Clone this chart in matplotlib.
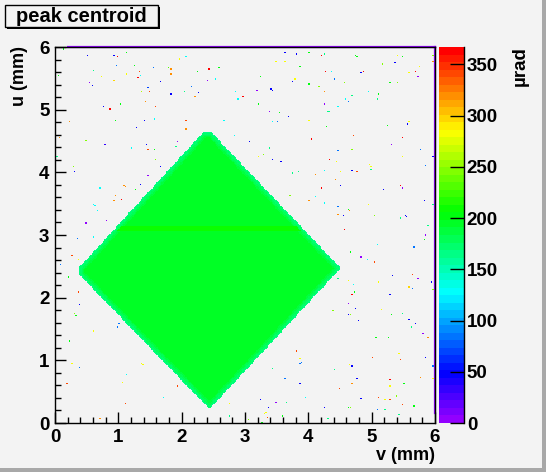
import colorsys

import numpy as np
import matplotlib

matplotlib.use("Agg")
import matplotlib.pyplot as plt
from matplotlib.colors import ListedColormap, BoundaryNorm
from matplotlib.patches import Rectangle
from matplotlib.path import Path
from matplotlib.ticker import MultipleLocator

# histogram binning (mm)
N_BINS = 300
V_MAX = 6.0
U_MAX = 6.0
Z_MAX = 367.0
N_CONTOURS = 50

# diamond shaped sensitive area, corners in (v, u) mm
diamond_v = [2.34, 2.47, 4.51, 2.44, 0.38, 0.38]
diamond_u = [4.64, 4.64, 2.47, 0.22, 2.37, 2.48]
core_z = 195.0
rim_z = 165.0
rim_width = 0.10
# slightly different band across the upper part
stripe_v = [0.97, 3.87]
stripe_u = [3.06, 3.13]
stripe_z = 207.0

# isolated noisy bins outside the diamond (v mm, u mm, µrad)
dot_v = [
    # upper left
    .12, .50, .92, .99, 1.14, 2.06, 1.97, .61, .72, .97,
    1.25, 1.14, 1.33, 1.35, 1.30, .94, 1.55, 1.79, 1.82, 1.82,
    2.26, 2.42, 2.59, 2.41, 2.53, .04, .54, .59, 1.66, 1.47,
    1.36, 1.49, 1.82, 2.04, 2.15, 2.28, 2.20, 2.84, 2.88, 2.96,
    .76, .87, 1.03, 1.43, 1.58, .23, .95, 1.41, 1.57, 2.06,
    2.66, 1.28, 2.07, .07, .48, .78, 1.44, 1.21, 1.47, 1.56,
    1.93, 1.90, 2.83, .03, 1.58, 1.66, .29, .31, 1.46, .08,
    1.35, 1.08, 1.10, 1.27, .70, .95, 1.05, .94, .61, .62,
    .67, .48, .81,
    # upper right
    3.62, 3.81, 4.00, 4.21, 4.24, 4.74, 4.77, 3.49, 3.62, 3.87,
    4.27, 4.36, 3.24, 3.78, 3.79, 3.76, 4.01, 3.19, 3.40, 3.42,
    4.17, 4.24, 4.41, 4.57, 4.82, 4.86, 5.16, 5.37, 5.41, 5.48,
    5.59, 5.69, 5.72, 5.75, 5.97, 5.97, 5.29, 5.41, 4.95, 5.11,
    5.09, 4.69, 4.58, 4.63, 3.21, 4.24, 4.46, 3.38, 3.54, 3.68,
    4.30, 4.32, 4.00, 3.42, 3.51, 4.28, 5.25, 5.56, 5.59, 3.07,
    4.05, 4.71, 5.48, 5.31, 3.38, 4.69, 5.77, 3.21, 3.29, 3.43,
    3.56, 4.32, 4.46, 4.44, 5.48, 5.96, 5.85, 4.96, 4.98, 4.99,
    3.76, 3.84, 4.11, 4.24, 4.51, 4.69, 4.77, 4.43, 4.21, 4.51,
    5.45, 5.48, 5.18, 3.70, 4.11, 4.02, 4.25, 4.95, 5.82, 5.97,
    4.46, 4.63, 4.65, 4.46, 4.55, 5.04, 5.45, 5.53, 5.55, 5.88,
    4.57, 5.85,
    # lower left
    .34, .61, .27, .37, .08, .21, .37, .38, .01, .31,
    .32, 1.00, .98, .61, .23, .27, .38, 1.36, 1.39, 1.13,
    1.06, .18, 1.92, 1.71, 1.11, .70, 2.74, 2.75,
    # lower right
    5.85, 5.83, 5.09, 5.67, 4.66, 4.82, 4.93, 5.06, 5.33, 5.64,
    5.72, 5.94, 4.47, 4.62, 5.11, 4.71, 5.59, 5.64, 5.97, 4.69,
    4.73, 5.28, 4.63, 4.76, 5.14, 4.39, 4.62, 4.66, 5.31, 5.48,
    4.79, 5.59, 5.69, 5.63, 5.80, 5.89, 5.07, 5.26, 3.81, 5.42,
    5.01, 5.44, 5.85, 3.87, 3.89, 3.87, 4.65, 4.69, 3.43, 4.41,
    3.62, 4.77, 5.28, 5.77, 5.96, 5.96, 3.87, 5.50, 4.69, 5.28,
    4.49, 5.39, 4.82, 5.11, 5.20, 5.28, 3.95, 3.25, 3.49, 3.64,
    3.37, 4.24, 4.62, 4.66, 5.48, 5.67, 5.09, 5.20, 3.32, 3.31,
    3.34, 3.59, 4.30, 5.42, 3.04, 3.26,
]
dot_u = [
    # upper left
    5.96, 5.87, 5.87, 5.85, 5.90, 5.85, 5.81, 5.63, 5.52, 5.71,
    5.70, 5.56, 5.60, 5.55, 5.50, 5.47, 5.66, 5.66, 5.64, 5.56,
    5.60, 5.64, 5.66, 5.47, 5.48, 5.55, 5.43, 5.39, 5.45, 5.34,
    5.28, 5.28, 5.24, 5.28, 5.36, 5.26, 5.21, 5.28, 5.16, 5.20,
    5.04, 5.02, 5.10, 5.12, 5.04, 4.80, 4.83, 4.83, 4.85, 4.83,
    4.82, 4.70, 4.69, 4.54, 4.51, 4.45, 4.45, 4.38, 4.37, 4.37,
    4.49, 4.40, 4.59, 4.26, 4.21, 4.08, 4.08, 4.00, 3.95, 3.79,
    3.81, 3.79, 3.77, 3.73, 3.74, 3.62, 3.57, 3.54, 3.49, 3.46,
    3.39, 3.19, 3.22,
    # upper right
    5.91, 5.88, 5.90, 5.87, 5.88, 5.87, 5.84, 5.77, 5.77, 5.69,
    5.61, 5.60, 5.52, 5.49, 5.48, 5.45, 5.40, 5.31, 5.32, 5.31,
    5.37, 5.28, 5.48, 5.42, 5.59, 5.60, 5.73, 5.74, 5.87, 5.84,
    5.58, 5.60, 5.52, 5.68, 5.87, 5.77, 5.42, 5.42, 5.28, 5.24,
    5.16, 5.23, 5.16, 5.12, 5.09, 5.09, 5.04, 4.97, 4.94, 4.89,
    4.97, 4.96, 4.83, 4.81, 4.81, 4.73, 4.75, 4.77, 4.80, 4.49,
    4.53, 4.59, 4.56, 4.45, 4.38, 4.37, 4.37, 4.24, 4.29, 4.21,
    4.16, 4.22, 4.34, 4.16, 4.26, 4.24, 4.11, 4.12, 4.10, 4.06,
    3.98, 4.00, 3.97, 4.03, 4.00, 4.03, 4.01, 3.89, 3.74, 3.78,
    3.79, 3.76, 3.73, 3.63, 3.60, 3.55, 3.51, 3.49, 3.54, 3.49,
    3.44, 3.41, 3.39, 3.33, 3.31, 3.31, 3.27, 3.30, 3.28, 3.14,
    3.09, 3.00,
    # lower left
    2.95, 2.96, 2.66, 2.61, 2.53, 2.34, 2.09, 1.89, 1.85, 1.75,
    1.70, 1.59, 1.53, 1.46, 1.30, .95, .89, .95, .92, .76,
    .65, .63, .59, .41, .30, .06, .30, .11,
    # lower right
    2.99, 2.93, 2.85, 2.80, 2.72, 2.64, 2.61, 2.56, 2.36, 2.37,
    2.32, 2.24, 2.32, 2.28, 2.24, 2.20, 2.16, 2.15, 2.13, 2.05,
    2.09, 2.05, 1.91, 1.83, 1.81, 1.78, 1.73, 1.73, 1.72, 1.75,
    1.62, 1.65, 1.59, 1.53, 1.43, 1.37, 1.37, 1.37, 1.15, 1.11,
    1.05, 1.00, 1.05, 1.02, .97, .95, .94, .90, .87, .84,
    .71, .71, .68, .73, .90, .70, .63, .63, .62, .59,
    .55, .43, .39, .41, .36, .36, .41, .36, .33, .33,
    .25, .25, .25, .25, .28, .27, .20, .20, .17, .14,
    .09, .11, .07, .12, .04, .01,
]
dot_z = [
    # upper left
    205, 47, 47, 360, 205, 128, 285, 166, 285, 88,
    205, 285, 340, 128, 360, 300, 88, 230, 317, 317,
    205, 360, 205, 7, 128, 205, 7, 47, 47, 70,
    260, 340, 47, 166, 88, 47, 317, 128, 128, 360,
    47, 360, 205, 317, 340, 317, 205, 47, 128, 340,
    128, 47, 317, 317, 245, 30, 47, 128, 340, 205,
    7, 166, 128, 166, 245, 47, 245, 47, 7, 360,
    47, 317, 317, 205, 128, 317, 360, 317, 128, 128,
    128, 7, 7,
    # upper right
    47, 47, 205, 360, 166, 205, 205, 285, 285, 205,
    360, 128, 205, 285, 300, 47, 205, 7, 47, 47,
    245, 317, 88, 245, 47, 360, 245, 47, 285, 205,
    285, 360, 7, 285, 245, 317, 205, 245, 128, 205,
    166, 166, 128, 88, 205, 7, 128, 7, 205, 47,
    166, 166, 285, 128, 88, 205, 205, 47, 285, 47,
    360, 340, 360, 7, 166, 245, 88, 285, 245, 47,
    47, 360, 88, 285, 285, 47, 88, 285, 285, 166,
    166, 166, 317, 128, 285, 47, 340, 317, 360, 47,
    360, 7, 47, 245, 128, 317, 128, 285, 47, 166,
    88, 205, 317, 317, 47, 245, 166, 47, 47, 166,
    360, 7,
    # lower left
    88, 128, 340, 285, 88, 205, 340, 47, 47, 245,
    205, 88, 88, 285, 205, 285, 88, 285, 285, 128,
    285, 340, 340, 128, 340, 317, 285, 166,
    # lower right
    7, 205, 128, 88, 205, 7, 128, 340, 47, 340,
    7, 47, 166, 285, 285, 128, 300, 88, 245, 360,
    205, 47, 7, 47, 285, 245, 47, 245, 205, 166,
    47, 47, 47, 166, 7, 317, 205, 205, 340, 285,
    340, 340, 47, 285, 88, 88, 285, 47, 166, 166,
    88, 47, 360, 317, 88, 285, 47, 205, 317, 285,
    340, 245, 47, 340, 285, 340, 128, 47, 7, 166,
    47, 47, 205, 245, 340, 205, 88, 166, 285, 285,
    340, 205, 166, 166, 245, 205,
]
assert len(dot_v) == len(dot_u) == len(dot_z)

z_ticks = [0, 50, 100, 150, 200, 250, 300, 350]

BG = "#f3f3f3"


def root_palette(n=50):
    """ROOT 'pretty' palette: violet -> red at full saturation."""
    colors = []
    for i in range(n):
        hue = 280.0 - (i + 1) * (280.0 / n)
        colors.append(colorsys.hls_to_rgb(hue / 360.0, 0.5, 1.0))
    return colors


def seg_dist(px, py, ax_, ay, bx, by):
    dx, dy = bx - ax_, by - ay
    t = np.clip(((px - ax_) * dx + (py - ay) * dy) / (dx * dx + dy * dy), 0, 1)
    return np.hypot(px - ax_ - t * dx, py - ay - t * dy)


def build_histogram():
    step_v = V_MAX / N_BINS
    step_u = U_MAX / N_BINS
    vc = (np.arange(N_BINS) + 0.5) * step_v
    uc = (np.arange(N_BINS) + 0.5) * step_u
    vv, uu = np.meshgrid(vc, uc)
    z = np.full((N_BINS, N_BINS), np.nan)

    corners = list(zip(diamond_v, diamond_u))
    inside = Path(corners).contains_points(
        np.column_stack([vv.ravel(), uu.ravel()])
    ).reshape(vv.shape)

    dist = np.full(vv.shape, np.inf)
    for k in range(len(corners)):
        a = corners[k]
        b = corners[(k + 1) % len(corners)]
        dist = np.minimum(dist, seg_dist(vv, uu, a[0], a[1], b[0], b[1]))
    frac = np.clip(dist / rim_width, 0, 1)
    body = rim_z + (core_z - rim_z) * frac

    band = (
        (uu >= stripe_u[0]) & (uu <= stripe_u[1])
        & (vv >= stripe_v[0]) & (vv <= stripe_v[1])
    )
    body = np.where(band & (frac > 0.5), stripe_z, body)
    z[inside] = body[inside]

    for v, u, val in zip(dot_v, dot_u, dot_z):
        iv = min(int(v / step_v), N_BINS - 1)
        iu = min(int(u / step_u), N_BINS - 1)
        if np.isnan(z[iu, iv]):
            z[iu, iv] = val
    return z


plt.rcParams["font.family"] = ["Liberation Sans", "DejaVu Sans"]
plt.rcParams["font.weight"] = "bold"

palette = root_palette(N_CONTOURS)
cmap = ListedColormap(palette)
cmap.set_bad((0, 0, 0, 0))
norm = BoundaryNorm(np.linspace(0, Z_MAX, N_CONTOURS + 1), N_CONTOURS)

W, H = 546, 472
fig = plt.figure(figsize=(W / 100, H / 100), dpi=100, facecolor=BG)
ax = fig.add_axes([55 / W, 49 / H, 380 / W, 376 / H], facecolor=BG)
cax = fig.add_axes([439 / W, 49 / H, 25 / W, 376 / H])

z = build_histogram()
im = ax.imshow(
    z, origin="lower", extent=(0, V_MAX, 0, U_MAX), cmap=cmap, norm=norm,
    interpolation="nearest", aspect="auto",
)
ax.set_xlim(0, V_MAX)
ax.set_ylim(0, U_MAX)
ax.xaxis.set_major_locator(MultipleLocator(1))
ax.yaxis.set_major_locator(MultipleLocator(1))
ax.xaxis.set_minor_locator(MultipleLocator(0.2))
ax.yaxis.set_minor_locator(MultipleLocator(0.2))
ax.tick_params(which="both", direction="in", top=False, right=False,
               width=1, labelsize=13.5)
ax.tick_params(which="major", length=8)
ax.tick_params(which="minor", length=4.3)
ax.tick_params(axis="x", pad=4)
ax.tick_params(axis="y", pad=4)
for s in ax.spines.values():
    s.set_linewidth(1)

# violet edge lines drawn by the histogram on top/right
ax.plot([0.2, V_MAX], [U_MAX, U_MAX], color=palette[0], lw=1.6, clip_on=False)
ax.plot([V_MAX, V_MAX], [0.16, U_MAX], color=palette[0], lw=1.6, clip_on=False)

cb = fig.colorbar(im, cax=cax, ticks=z_ticks)
cb.outline.set_visible(False)
cb.minorticks_off()
cax.tick_params(direction="in", length=10, width=1, labelsize=13.5, pad=2)
cax.plot([1, 1], [0, 1], transform=cax.transAxes, color="black", lw=1,
         clip_on=False)

fig.text(520 / W, 1 - 46 / H, "µrad", rotation=90, ha="center", va="top",
         fontsize=13.5)
fig.text(435 / W, 1 - 455 / H, "v (mm)", ha="right", va="center", fontsize=13)
fig.text(19 / W, 1 - 46 / H, "u (mm)", rotation=90, ha="center", va="top",
         fontsize=13)

# title pave with shadow
fig.add_artist(Rectangle((7 / W, 1 - 29 / H), 153 / W, 22 / H,
                         transform=fig.transFigure, facecolor="black",
                         edgecolor="none"))
fig.add_artist(Rectangle((5 / W, 1 - 27 / H), 153 / W, 22 / H,
                         transform=fig.transFigure, facecolor=BG,
                         edgecolor="black", lw=1))
fig.text(81 / W, 1 - 16 / H, "peak centroid", ha="center", va="center",
         fontsize=14.5)

# canvas bevel on right and bottom
fig.add_artist(Rectangle((542 / W, 0), 4 / W, 1, transform=fig.transFigure,
                         facecolor="#a8a8a8", edgecolor="none"))
fig.add_artist(Rectangle((0, 0), 1, 4 / H, transform=fig.transFigure,
                         facecolor="#a8a8a8", edgecolor="none"))

fig.savefig("out.png", dpi=100, facecolor=BG)
